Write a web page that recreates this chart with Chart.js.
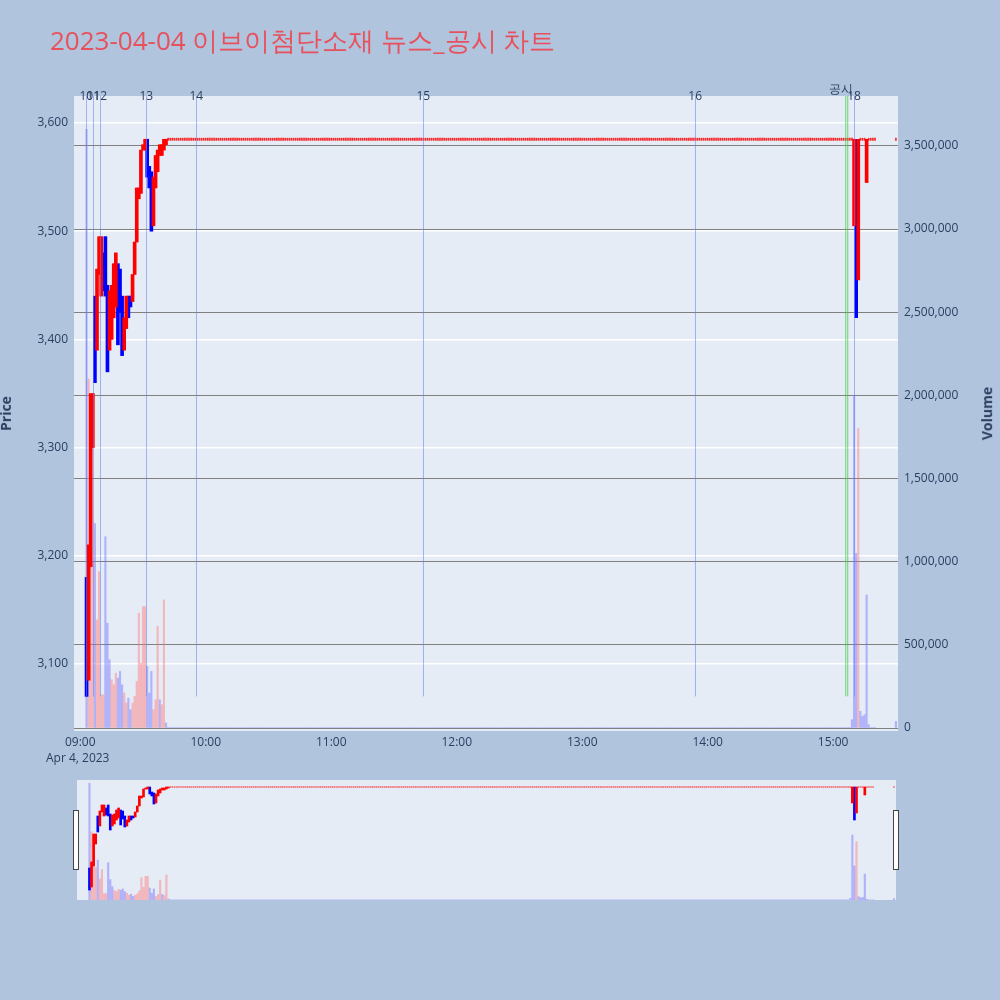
<!DOCTYPE html>
<html><head><meta charset="utf-8">
<script src="https://cdn.jsdelivr.net/npm/chart.js@4"></script>
<style>
body{margin:0;background:#b0c4de;font-family:"Open Sans",sans-serif;}
#wrap{position:relative;width:1000px;height:1000px;}
.t{position:absolute;color:#2a3f5f;white-space:nowrap;}
</style></head><body>
<div id="wrap">
<canvas id="main" width="1000" height="1000" style="position:absolute;left:0;top:0"></canvas>
<canvas id="mini" width="819" height="120" style="position:absolute;left:77px;top:780px"></canvas>
<div class="t" style="left:50px;top:22px;font-size:26px;color:#e8505b">2023-04-04 이브이첨단소재 뉴스_공시 차트</div>
<div class="t" style="left:46px;top:749px;font-size:12px">Apr 4, 2023</div>
<div class="t" style="left:-12px;top:404px;font-size:14px;font-weight:bold;transform:rotate(-90deg)">Price</div>
<div class="t" style="left:960px;top:404px;font-size:14px;font-weight:bold;transform:rotate(-90deg)">Volume</div>
<div style="position:absolute;left:73px;top:810px;width:4px;height:58px;background:#fff;border:1px solid #444"></div>
<div style="position:absolute;left:893px;top:810px;width:4px;height:58px;background:#fff;border:1px solid #444"></div>
</div>
<script>
// minutes after 09:00
const earlyStart = 3;
const earlyLow  = [3070,3085,3190,3300,3360,3390,3460,3440,3445,3440,3370,3390,3400,3420,3430,3395,3425,3385,3390,3410,3420,3430,3435,3460,3490,3530,3535,3575,3575,3550,3540,3500,3505,3540,3555,3570,3570,3575,3580];
const earlyHigh = [3180,3210,3350,3350,3440,3465,3495,3495,3480,3495,3450,3445,3450,3470,3480,3470,3465,3440,3420,3440,3440,3440,3460,3490,3540,3540,3575,3580,3585,3585,3560,3555,3550,3570,3575,3580,3580,3585,3585];
const earlyDir  = ['d','u','u','u','d','u','u','u','d','d','d','u','u','u','u','d','d','d','u','u','d','d','u','u','u','u','u','u','u','d','d','d','u','u','u','u','u','u','u'];
const earlyVol  = [3600000,2100000,1900000,1000000,1230000,650000,940000,200000,200000,1150000,630000,410000,290000,260000,330000,300000,340000,260000,210000,150000,180000,110000,150000,190000,280000,690000,390000,730000,730000,370000,210000,340000,110000,170000,610000,170000,140000,770000,30000];
const earlyVolDir=['d','u','u','u','d','u','u','u','u','d','d','d','u','u','u','d','d','d','u','u','d','d','u','u','u','u','u','u','u','d','d','d','u','u','u','d','u','u','d'];
const flatStart = 42, flatEnd = 380, flatPrice = 3585, flatVol = 3000;
const lateMin  = [370,371,372,376];
const lateLow  = [3505,3420,3455,3545];
const lateHigh = [3585,3585,3585,3585];
const lateDir  = ['u','d','u','u'];
const lateVolMin = [369,370,371,372,373,374,375,376,377,390];
const lateVol    = [50000,2000000,1050000,1800000,100000,70000,80000,800000,20000,40000];
const lateVolDir = ['d','d','d','u','d','d','d','d','d','d'];
const extraMin = [390];
const newsMin = [2.9,6.2,9.6,31.6,55.5,164,294,370];
const newsLbl = ['10','11','12','13','14','15','16','18'];
const gongsiMin = 366.5;
const timeTicks = [0,60,120,180,240,300,360];
const timeLbls = ['09:00','10:00','11:00','12:00','13:00','14:00','15:00'];

const up=[],dn=[],vu=[],vd=[],flat=[];
earlyLow.forEach((l,i)=>{const p={x:earlyStart+i,y:[l,earlyHigh[i]]};(earlyDir[i]==='u'?up:dn).push(p);
 const v={x:earlyStart+i,y:earlyVol[i]};(earlyVolDir[i]==='u'?vu:vd).push(v);});
for(let m=flatStart;m<=flatEnd;m++){ if(lateMin.includes(m))continue; flat.push({x:m,y:[flatPrice-1,flatPrice+1]}); if(!lateVolMin.includes(m)) vd.push({x:m,y:flatVol});}
extraMin.forEach(m=>flat.push({x:m,y:[flatPrice-1,flatPrice+1]}));
lateMin.forEach((m,i)=>{(lateDir[i]==='u'?up:dn).push({x:m,y:[lateLow[i],lateHigh[i]]});});
lateVolMin.forEach((m,i)=>{(lateVolDir[i]==='u'?vu:vd).push({x:m,y:lateVol[i]});});

function ds(mini){
 return [
  {data:flat,backgroundColor:'rgba(255,0,0,0.85)',yAxisID:'y',barThickness:1,grouped:false,order:1},
  {data:up,backgroundColor:'#ff0000',yAxisID:'y',barThickness:mini?2:3,grouped:false,order:1},
  {data:dn,backgroundColor:'#0000ff',yAxisID:'y',barThickness:mini?2:3,grouped:false,order:1},
  {data:vu,backgroundColor:'rgba(255,120,120,0.45)',yAxisID:'y2',barThickness:1.5,grouped:false,order:2},
  {data:vd,backgroundColor:'rgba(110,110,255,0.45)',yAxisID:'y2',barThickness:1.5,grouped:false,order:2}];
}
const newsPlugin={id:'news',afterDatasetsDraw(c){
 const {ctx,scales:{x,y}}=c; const top=c.chartArea.top, bot=y.getPixelForValue(3070);
 ctx.save(); ctx.lineWidth=1;
 ctx.strokeStyle='rgba(60,200,60,0.7)';
 [-0.5,0.5].forEach(d=>{const px=x.getPixelForValue(gongsiMin)+d*2;ctx.beginPath();ctx.moveTo(px,top);ctx.lineTo(px,bot);ctx.stroke();});
 ctx.strokeStyle='rgba(100,130,240,0.55)';
 newsMin.forEach(m=>{const px=Math.round(x.getPixelForValue(m))+0.5;ctx.beginPath();ctx.moveTo(px,top);ctx.lineTo(px,bot);ctx.stroke();});
 ctx.fillStyle='#2a3f5f';ctx.font='12px "Open Sans"';ctx.textAlign='center';ctx.textBaseline='middle';
 newsMin.forEach((m,i)=>ctx.fillText(newsLbl[i],x.getPixelForValue(m),top+1));
 ctx.fillText('공시',x.getPixelForValue(gongsiMin)-6,top-6);
 ctx.restore();}};
const tickFont={family:'"Open Sans"',size:12};
new Chart(document.getElementById('main'),{type:'bar',data:{datasets:ds(false)},
 options:{responsive:false,animation:false,events:[],
  layout:{padding:{top:96,bottom:229,left:0,right:0}},
  plugins:{legend:{display:false},tooltip:{enabled:false}},
  scales:{
   x:{type:'linear',offset:false,min:-3,max:391,afterFit(s){s.height=40;},
      afterBuildTicks(s){s.ticks=timeTicks.map(v=>({value:v}));},
      ticks:{color:'#2a3f5f',font:tickFont,maxRotation:0,padding:-4,callback:(v)=>timeLbls[timeTicks.indexOf(v)]},
      grid:{display:false},border:{display:false}},
   y:{position:'left',min:3038,max:3625,afterFit(s){s.width=74;},
      afterBuildTicks(s){s.ticks=[3100,3200,3300,3400,3500,3600].map(v=>({value:v}));},
      ticks:{color:'#2a3f5f',font:tickFont,padding:6,callback:v=>v.toLocaleString('en-US')},
      grid:{color:'#ffffff',lineWidth:1.5,drawTicks:false},border:{display:false}},
   y2:{position:'right',min:-18000,max:3800000,afterFit(s){s.width=102;},
      afterBuildTicks(s){s.ticks=[0,500000,1000000,1500000,2000000,2500000,3000000,3500000].map(v=>({value:v}));},
      ticks:{color:'#2a3f5f',font:tickFont,padding:6,callback:v=>v.toLocaleString('en-US')},
      grid:{color:'#808080',lineWidth:1,drawTicks:false},border:{display:false}}
  }},
 plugins:[{id:'bg',beforeDraw(c){const a=c.chartArea;c.ctx.fillStyle='#e5ecf6';c.ctx.fillRect(a.left,a.top,a.width,a.height);}},newsPlugin]});
new Chart(document.getElementById('mini'),{type:'bar',data:{datasets:ds(true)},
 options:{responsive:false,animation:false,events:[],layout:{padding:0},
  plugins:{legend:{display:false},tooltip:{enabled:false}},
  scales:{x:{type:'linear',offset:false,min:-3,max:391,display:false},
   y:{min:3020,max:3620,display:false},y2:{min:0,max:3700000,display:false}}},
 plugins:[{id:'bg2',beforeDraw(c){c.ctx.fillStyle='#e5ecf6';c.ctx.fillRect(0,0,c.width,c.height);}}]});
</script></body></html>
